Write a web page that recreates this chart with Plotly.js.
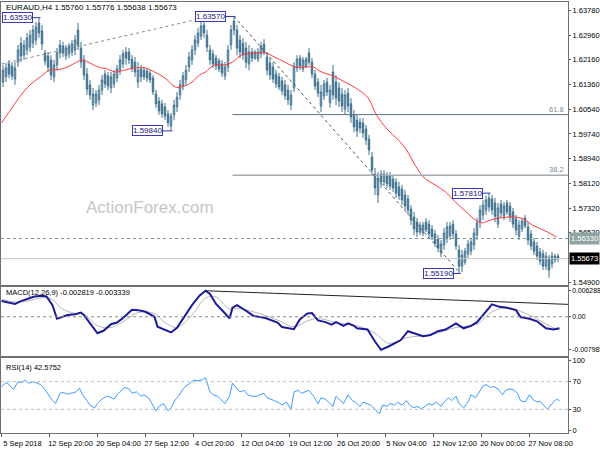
<!DOCTYPE html>
<html><head><meta charset="utf-8">
<script src="https://cdn.plot.ly/plotly-3.0.1.min.js"></script>
<style>html,body{margin:0;padding:0;background:#fff}#chart{width:600px;height:450px}</style>
</head><body><div id="chart"></div>
<script>
// ---- price bars (EURAUD, each bar drawn here spans two H4 bars) ----
const barOpen=[1.6143,1.6160,1.6202,1.6195,1.6153,1.6208,1.6270,1.6231,1.6248,1.6257,1.6270,1.6280,1.6336,1.6310,1.6238,1.6228,1.6215,1.6160,1.6199,1.6264,
1.6261,1.6228,1.6235,1.6241,1.6248,1.6313,1.6254,1.6215,1.6169,1.6134,1.6068,1.6075,1.6085,1.6117,1.6169,1.6163,1.6124,1.6137,1.6156,1.6182,
1.6202,1.6241,1.6241,1.6218,1.6208,1.6143,1.6186,1.6182,1.6179,1.6173,1.6156,1.6104,1.6081,1.6072,1.6062,1.6039,1.6000,1.6036,1.6062,1.6101,
1.6130,1.6150,1.6192,1.6215,1.6248,1.6270,1.6293,1.6329,1.6296,1.6248,1.6235,1.6221,1.6212,1.6202,1.6163,1.6192,1.6264,1.6342,1.6313,1.6280,
1.6270,1.6254,1.6202,1.6241,1.6221,1.6218,1.6235,1.6267,1.6225,1.6205,1.6192,1.6169,1.6160,1.6147,1.6134,1.6117,1.6068,1.6124,1.6189,1.6221,
1.6186,1.6195,1.6238,1.6208,1.6169,1.6143,1.6065,1.6098,1.6143,1.6075,1.6176,1.6143,1.6124,1.6104,1.6055,1.6107,1.6072,1.6036,1.6019,1.6013,
1.6010,1.5990,1.5957,1.5899,1.5843,1.5775,1.5843,1.5817,1.5837,1.5837,1.5827,1.5817,1.5801,1.5794,1.5775,1.5762,1.5729,1.5703,1.5687,1.5654,
1.5651,1.5687,1.5680,1.5664,1.5648,1.5631,1.5586,1.5612,1.5635,1.5641,1.5680,1.5648,1.5596,1.5543,1.5556,1.5583,1.5592,1.5612,1.5644,1.5687,
1.5710,1.5726,1.5765,1.5762,1.5749,1.5680,1.5746,1.5706,1.5749,1.5739,1.5720,1.5697,1.5641,1.5664,1.5700,1.5671,1.5648,1.5622,1.5609,1.5589,
1.5583,1.5543,1.5570,1.5550,1.5563,1.5576];
const barHigh=[1.6199,1.6205,1.6215,1.6208,1.6208,1.6264,1.6290,1.6280,1.6303,1.6313,1.6329,1.6339,1.6353,1.6329,1.6248,1.6241,1.6231,1.6215,1.6254,1.6280,
1.6274,1.6264,1.6270,1.6280,1.6296,1.6336,1.6274,1.6231,1.6189,1.6150,1.6124,1.6117,1.6134,1.6166,1.6182,1.6176,1.6176,1.6182,1.6199,1.6231,
1.6248,1.6257,1.6254,1.6231,1.6225,1.6208,1.6199,1.6192,1.6189,1.6182,1.6166,1.6117,1.6094,1.6085,1.6075,1.6052,1.6042,1.6085,1.6111,1.6150,
1.6176,1.6199,1.6241,1.6264,1.6296,1.6319,1.6339,1.6345,1.6313,1.6264,1.6248,1.6231,1.6221,1.6215,1.6208,1.6264,1.6329,1.6357,1.6329,1.6296,
1.6287,1.6274,1.6264,1.6254,1.6248,1.6254,1.6274,1.6283,1.6241,1.6221,1.6208,1.6182,1.6173,1.6160,1.6150,1.6134,1.6117,1.6208,1.6231,1.6231,
1.6225,1.6225,1.6254,1.6221,1.6182,1.6156,1.6134,1.6150,1.6156,1.6134,1.6199,1.6166,1.6143,1.6124,1.6117,1.6124,1.6091,1.6052,1.6036,1.6026,
1.6026,1.6003,1.5971,1.5915,1.5863,1.5850,1.5856,1.5856,1.5850,1.5850,1.5840,1.5830,1.5817,1.5808,1.5791,1.5775,1.5742,1.5720,1.5700,1.5687,
1.5687,1.5700,1.5693,1.5677,1.5661,1.5644,1.5628,1.5667,1.5687,1.5687,1.5693,1.5661,1.5612,1.5596,1.5602,1.5628,1.5635,1.5667,1.5700,1.5742,
1.5759,1.5772,1.5781,1.5775,1.5765,1.5749,1.5759,1.5752,1.5759,1.5752,1.5733,1.5710,1.5693,1.5700,1.5710,1.5687,1.5661,1.5635,1.5622,1.5602,
1.5596,1.5589,1.5579,1.5589,1.5583,1.5584];
const barLow=[1.6127,1.6143,1.6156,1.6150,1.6134,1.6192,1.6208,1.6215,1.6231,1.6241,1.6254,1.6264,1.6287,1.6248,1.6199,1.6176,1.6150,1.6143,1.6182,1.6221,
1.6225,1.6215,1.6221,1.6228,1.6231,1.6248,1.6189,1.6150,1.6101,1.6085,1.6052,1.6062,1.6068,1.6101,1.6124,1.6117,1.6107,1.6124,1.6143,1.6166,
1.6189,1.6199,1.6202,1.6176,1.6160,1.6124,1.6143,1.6150,1.6143,1.6140,1.6101,1.6059,1.6036,1.6026,1.6019,1.5997,1.5984,1.6019,1.6045,1.6085,
1.6117,1.6134,1.6176,1.6199,1.6231,1.6257,1.6280,1.6287,1.6241,1.6199,1.6189,1.6182,1.6176,1.6160,1.6150,1.6176,1.6248,1.6296,1.6231,1.6221,
1.6215,1.6189,1.6182,1.6208,1.6215,1.6208,1.6221,1.6231,1.6166,1.6150,1.6140,1.6124,1.6117,1.6101,1.6085,1.6068,1.6052,1.6111,1.6176,1.6182,
1.6176,1.6189,1.6199,1.6156,1.6117,1.6094,1.6045,1.6085,1.6098,1.6059,1.6085,1.6068,1.6062,1.6045,1.6036,1.6045,1.6010,1.5980,1.5964,1.5977,
1.5961,1.5938,1.5905,1.5840,1.5775,1.5749,1.5798,1.5804,1.5798,1.5791,1.5785,1.5765,1.5759,1.5742,1.5726,1.5710,1.5677,1.5644,1.5638,1.5644,
1.5641,1.5654,1.5635,1.5628,1.5605,1.5589,1.5573,1.5596,1.5618,1.5628,1.5635,1.5596,1.5519,1.5524,1.5547,1.5570,1.5579,1.5596,1.5628,1.5667,
1.5693,1.5710,1.5720,1.5710,1.5687,1.5667,1.5700,1.5693,1.5710,1.5687,1.5667,1.5644,1.5628,1.5654,1.5667,1.5612,1.5596,1.5579,1.5563,1.5547,
1.5530,1.5530,1.5505,1.5537,1.5553,1.5556];
const barClose=[1.6182,1.6189,1.6169,1.6163,1.6189,1.6248,1.6228,1.6264,1.6287,1.6296,1.6313,1.6323,1.6303,1.6267,1.6212,1.6192,1.6166,1.6199,1.6238,1.6238,
1.6238,1.6254,1.6261,1.6267,1.6280,1.6264,1.6208,1.6166,1.6120,1.6101,1.6104,1.6104,1.6117,1.6150,1.6137,1.6130,1.6160,1.6169,1.6186,1.6215,
1.6235,1.6221,1.6215,1.6189,1.6176,1.6182,1.6160,1.6160,1.6156,1.6150,1.6111,1.6072,1.6049,1.6039,1.6032,1.6010,1.6032,1.6068,1.6094,1.6134,
1.6163,1.6182,1.6225,1.6248,1.6280,1.6303,1.6326,1.6303,1.6257,1.6215,1.6202,1.6195,1.6186,1.6173,1.6192,1.6248,1.6313,1.6313,1.6254,1.6241,
1.6231,1.6208,1.6241,1.6221,1.6241,1.6241,1.6261,1.6241,1.6182,1.6166,1.6153,1.6137,1.6127,1.6114,1.6098,1.6085,1.6101,1.6195,1.6218,1.6195,
1.6215,1.6218,1.6208,1.6169,1.6130,1.6107,1.6111,1.6137,1.6111,1.6117,1.6101,1.6091,1.6081,1.6065,1.6101,1.6065,1.6029,1.5997,1.5984,1.5993,
1.5977,1.5954,1.5922,1.5856,1.5798,1.5830,1.5817,1.5843,1.5811,1.5804,1.5798,1.5781,1.5772,1.5759,1.5739,1.5726,1.5693,1.5664,1.5654,1.5677,
1.5677,1.5661,1.5648,1.5638,1.5618,1.5602,1.5615,1.5651,1.5671,1.5674,1.5648,1.5609,1.5543,1.5579,1.5592,1.5615,1.5622,1.5651,1.5684,1.5726,
1.5742,1.5759,1.5736,1.5726,1.5706,1.5733,1.5716,1.5739,1.5720,1.5703,1.5680,1.5661,1.5677,1.5690,1.5674,1.5628,1.5609,1.5592,1.5576,1.5560,
1.5543,1.5576,1.5530,1.5576,1.5576,1.55673];
// ---- moving average (red) ----
const maIndex=[0,6,12,19,26,32,37,44,50,54,59,66,69,76,82,89,96,102,109,116,120,127,132,136,142,149,154,160,169,176,182,189,196,202,208,212,221,229,236,244,250,257,264,270,276,282,289,296,302,309,316,320,326,332,341,348,354,364,370];
const maValue=[1.6010,1.6052,1.6094,1.6134,1.6160,1.6182,1.6183,1.6192,1.6208,1.6215,1.6205,1.6189,1.6188,1.6176,1.6182,1.6189,1.6189,1.6176,1.6156,1.6127,1.6127,1.6143,1.6166,1.6176,1.6199,1.6199,1.6208,1.6231,1.6238,1.6238,1.6225,1.6208,1.6192,1.6192,1.6192,1.6179,1.6163,1.6143,1.6124,1.6094,1.6036,1.5990,1.5957,1.5922,1.5870,1.5830,1.5808,1.5785,1.5755,1.5723,1.5693,1.5684,1.5693,1.5700,1.5703,1.5697,1.5677,1.5654,1.5638];
// ---- MACD(12,26,9) ----
const macdIndex=[0,4,9,13,17,22,27,30,34,37,40,44,49,53,55,59,64,68,73,77,81,87,91,96,102,104,109,113,117,122,127,132,136,139,143,148,152,154,157,162,168,176,184,187,193,195,199,204,207,211,216,220,223,228,231,235,237,244,249,253,258,266,271,276,281,286,291,296,303,308,313,317,322,327,332,337,343,346,352,357,363,368,372];
const macdMain=[0.0038,0.0035,0.0031,0.0038,0.0043,0.0049,0.0051,0.0049,0.0028,-0.0005,-0.0001,0.0004,0.0006,0.0010,0.0004,-0.0015,-0.0040,-0.0034,-0.0018,-0.0014,-0.0003,0.0017,0.0016,0.0012,0.0000,-0.0024,-0.0031,-0.0038,-0.0027,0.0000,0.0028,0.0051,0.0063,0.0055,0.0031,0.0012,-0.0004,0.0022,0.0028,0.0017,0.0002,-0.0003,-0.0014,-0.0025,-0.0028,-0.0030,-0.0006,0.0008,0.0009,-0.0009,-0.0013,-0.0019,-0.0013,-0.0022,-0.0016,-0.0022,-0.0028,-0.0031,-0.0060,-0.0080,-0.0072,-0.0057,-0.0035,-0.0041,-0.0047,-0.0044,-0.0035,-0.0031,-0.0016,-0.0028,-0.0022,-0.0013,0.0008,0.0030,0.0024,0.0022,0.0016,-0.0001,-0.0005,-0.0011,-0.0028,-0.0031,-0.0028];
const signalIndex=[0,9,17,27,34,40,49,55,64,73,81,91,102,109,117,127,136,143,152,157,168,184,195,204,211,223,237,249,258,271,286,303,317,327,337,352,363,372];
const signalValue=[0.0042,0.0036,0.0038,0.0046,0.0042,0.0020,0.0008,0.0006,-0.0022,-0.0026,-0.0012,0.0010,0.0008,-0.0014,-0.0026,0.0004,0.0045,0.0048,0.0018,0.0020,0.0012,-0.0008,-0.0024,-0.0010,-0.0004,-0.0014,-0.0022,-0.0040,-0.0064,-0.0050,-0.0044,-0.0026,-0.0018,0.0012,0.0022,0.0004,-0.0018,-0.0033];
// ---- RSI(14) ----
const rsiIndex=[0,3,5,8,11,13,16,18,21,23,26,28,31,34,36,39,41,44,46,49,52,54,57,59,62,64,67,70,72,75,77,80,82,85,87,90,93,95,98,100,103,105,108,111,113,116,118,121,123,126,128,131,134,136,139,141,144,146,149,152,154,157,159,162,164,167,170,172,175,177,180,182,185,187,190,193,195,198,200,203,205,208,211,213,216,218,221,223,226,228,231,234,236,239,241,244,246,249,252,254,257,259,262,264,267,270,272,275,277,280,282,285,287,290,293,295,298,300,303,305,308,311,313,316,318,321,323,326,328,331,334,336,339,341,344,346,349,352,354,357,359,362,364,367,370,372];
const rsiValue=[62.8,68.7,65.8,58.6,70.0,68.7,72.1,67.9,70.0,68.7,65.8,61.6,51.1,42.6,38.4,53.2,54.4,51.9,53.2,54.4,60.3,51.1,42.6,36.3,32.1,38.4,44.7,48.9,48.1,44.7,51.1,57.4,61.6,59.5,53.2,55.3,48.9,51.1,46.8,39.3,27.9,34.2,38.4,27.9,32.1,44.7,48.9,59.5,63.7,67.9,72.1,71.3,72.9,75.5,55.3,51.1,48.9,44.7,38.4,48.9,67.9,59.5,55.3,57.4,51.1,48.9,48.9,51.1,53.2,46.8,44.7,42.6,39.3,36.3,40.5,30.0,55.3,57.4,53.2,55.3,57.4,48.9,38.4,46.8,44.7,40.5,34.2,48.9,42.6,38.4,51.1,42.6,40.5,34.2,40.5,38.4,36.3,30.0,23.7,36.3,34.2,38.4,36.3,40.5,36.3,42.6,36.3,32.1,34.2,30.8,34.2,38.4,36.3,40.5,34.2,40.5,46.8,42.6,48.9,38.4,32.1,40.5,51.1,46.8,53.2,63.7,65.8,61.6,62.8,59.5,51.1,57.4,59.5,58.6,53.2,42.6,40.5,51.1,44.7,40.5,41.8,34.2,30.0,38.4,44.7,42.6];
// ---- axis labels ----
const dateTickIndex=[0,32,64,96,128,160,192,224,256,288,320,352];
const dateTickText=['5 Sep 2018','12 Sep 20:00','20 Sep 04:00','27 Sep 12:00','4 Oct 20:00','12 Oct 04:00','19 Oct 12:00','26 Oct 20:00','5 Nov 04:00','12 Nov 12:00','20 Nov 00:00','27 Nov 08:00'];
const priceTicks=[1.6378,1.6296,1.6216,1.6136,1.6054,1.5974,1.5894,1.5812,1.5732,1.5652,1.5490];
const macdTicks=[0.006288,0,-0.007985];
const macdTickText=['0.006288','0.00','-0.007985'];
const rsiTicks=[100,70,30,0];
const rsiTickText=['100','70','30','0'];
// swing labels and levels
const swingIndex=[25,155,113,325,305];
const swingPrice=[1.6353,1.6357,1.5984,1.5781,1.5519];
const swingText=['1.63530','1.63570','1.59840','1.57810','1.55190'];
const fibLevels=[1.6037,1.5839];
const fibText=['61.8','38.2'];
const resistLevel=1.5633;
const lastPrice=1.55673;

const barIndex=barOpen.map((_,k)=>2*k+1);
const XR=[-0.33,377.67];
const FONT='Liberation Sans, Arial, sans-serif';

const traces=[
 {type:'candlestick',x:barIndex,open:barOpen,high:barHigh,low:barLow,close:barClose,xaxis:'x',yaxis:'y',
  increasing:{line:{color:'#41728f',width:1},fillcolor:'#b8cfdf'},
  decreasing:{line:{color:'#41728f',width:1},fillcolor:'#41728f'},whiskerwidth:0,hoverinfo:'skip'},
 {type:'scatter',mode:'lines',x:maIndex,y:maValue,xaxis:'x',yaxis:'y',line:{color:'#ff3b3b',width:1,shape:'spline'},hoverinfo:'skip'},
 {type:'scatter',mode:'lines',x:signalIndex,y:signalValue,xaxis:'x2',yaxis:'y2',line:{color:'#b8b8b8',width:1,shape:'spline'},hoverinfo:'skip'},
 {type:'scatter',mode:'lines',x:macdIndex,y:macdMain,xaxis:'x2',yaxis:'y2',line:{color:'#1b1b99',width:2},hoverinfo:'skip'},
 {type:'scatter',mode:'lines',x:rsiIndex,y:rsiValue,xaxis:'x3',yaxis:'y3',line:{color:'#3c9cff',width:1},hoverinfo:'skip'}
];

function tf(){return {family:FONT,size:7.5,color:'#000'};}
const axBase={showgrid:false,zeroline:false,showline:true,mirror:true,linecolor:'#707070',linewidth:1};
const shapes=[];
const annotations=[];
fibLevels.forEach((lv,i)=>{
 shapes.push({type:'line',xref:'x',yref:'y',x0:154,x1:XR[1],y0:lv,y1:lv,line:{color:i===0?'#5b7684':'#a3acb2',width:i===0?1:1.5}});
 annotations.push({xref:'paper',yref:'y',x:1,y:lv,xanchor:'right',yanchor:'bottom',xshift:-2,yshift:-1,showarrow:false,text:fibText[i],font:{family:FONT,size:7.5,color:'#7d8c96'}});
});
shapes.push({type:'line',xref:'x',yref:'y',x0:XR[0],x1:XR[1],y0:resistLevel,y1:resistLevel,line:{color:'#7f9797',width:1,dash:'3px,3px'}});
shapes.push({type:'line',xref:'x',yref:'y',x0:XR[0],x1:XR[1],y0:lastPrice,y1:lastPrice,line:{color:'#c4c4c4',width:1}});
shapes.push({type:'line',xref:'x',yref:'y',x0:0,x1:132,y0:1.6202,y1:1.6349,line:{color:'#8a8a8a',width:1,dash:'dot'}});
shapes.push({type:'line',xref:'x',yref:'y',x0:155,x1:306,y0:1.6357,y1:1.5519,line:{color:'#555',width:1,dash:'dot'}});
shapes.push({type:'line',xref:'x2',yref:'y2',x0:136,x1:XR[1],y0:0.0063,y1:0.0030,line:{color:'#222',width:1}});
shapes.push({type:'line',xref:'x2',yref:'y2',x0:XR[0],x1:XR[1],y0:0,y1:0,line:{color:'#8a8a8a',width:1,dash:'dot'}});
[70,30].forEach(v=>shapes.push({type:'line',xref:'x3',yref:'y3',x0:XR[0],x1:XR[1],y0:v,y1:v,line:{color:'#c0c0c0',width:1,dash:'dot'}}));
const gaps=[6,8,8,6,5];
swingIndex.forEach((xi,i)=>{
 shapes.push({type:'line',xref:'x',yref:'y',x0:xi-gaps[i]/1.5,x1:xi+1,y0:swingPrice[i],y1:swingPrice[i],line:{color:'#3434a8',width:1}});
 annotations.push({xref:'x',yref:'y',x:xi-gaps[i]/1.5,y:swingPrice[i],xanchor:'right',yanchor:'middle',showarrow:false,text:swingText[i],
  font:{family:FONT,size:8,color:'#16167a'},bgcolor:'#ffffff',bordercolor:'#3a3ab0',borderwidth:1,borderpad:0});
});
annotations.push({xref:'paper',yref:'y',x:1,y:resistLevel,xanchor:'left',yanchor:'middle',xshift:1,showarrow:false,text:'1.56330',
 font:{family:FONT,size:7.5,color:'#ffffff'},bgcolor:'#8fa3a3',borderpad:1});
annotations.push({xref:'paper',yref:'y',x:1,y:lastPrice,xanchor:'left',yanchor:'middle',xshift:1,showarrow:false,text:'1.55673',
 font:{family:FONT,size:7.5,color:'#ffffff'},bgcolor:'#000000',borderpad:1});
annotations.push({xref:'paper',yref:'paper',x:0.005,y:0.988,xanchor:'left',yanchor:'middle',showarrow:false,text:'EURAUD,H4 1.55760 1.55776 1.55638 1.55673',font:{family:FONT,size:8,color:'#000'}});
annotations.push({xref:'paper',yref:'paper',x:0.263,y:0.524,xanchor:'center',yanchor:'middle',showarrow:false,text:'ActionForex.com',font:{family:FONT,size:17,color:'#c6c6c6'}});
annotations.push({xref:'paper',yref:'paper',x:0.005,y:0.327,xanchor:'left',yanchor:'middle',showarrow:false,text:'MACD(12,26,9) -0.002819 -0.003339',font:{family:FONT,size:7.5,color:'#000'}});
annotations.push({xref:'paper',yref:'paper',x:0.005,y:0.153,xanchor:'left',yanchor:'middle',showarrow:false,text:'RSI(14) 42.5752',font:{family:FONT,size:7.5,color:'#000'}});

const yAx={side:'right',ticks:'outside',ticklen:2,tickcolor:'#555'};
const layout={width:600,height:450,margin:{l:1,r:32,t:2,b:17},paper_bgcolor:'#fff',plot_bgcolor:'#fff',showlegend:false,
 font:{family:FONT,size:8,color:'#000'},
 xaxis:Object.assign({},axBase,{domain:[0,1],anchor:'y',range:XR,rangeslider:{visible:false},showticklabels:false,ticks:''}),
 yaxis:Object.assign({},axBase,yAx,{tickfont:tf(),domain:[0.3434,1],anchor:'x',range:[1.54815,1.64041],tickvals:priceTicks,ticktext:priceTicks.map(v=>v.toFixed(5))}),
 xaxis2:Object.assign({},axBase,{domain:[0,1],anchor:'y2',range:XR,showticklabels:false,ticks:''}),
 yaxis2:Object.assign({},axBase,yAx,{domain:[0.1787,0.3387],anchor:'x2',range:[-0.0095,0.0072],tickvals:macdTicks,ticktext:macdTickText,tickfont:{family:FONT,size:6.8,color:'#000'}}),
 xaxis3:Object.assign({},axBase,{tickfont:tf(),domain:[0,1],anchor:'y3',range:XR,tickvals:dateTickIndex,ticktext:dateTickText,ticks:'outside',ticklen:3,tickcolor:'#555',ticklabelshift:21}),
 yaxis3:Object.assign({},axBase,yAx,{tickfont:tf(),domain:[0,0.174],anchor:'x3',range:[-4,104],tickvals:rsiTicks,ticktext:rsiTickText}),
 shapes:shapes,annotations:annotations};
Plotly.newPlot('chart',traces,layout,{staticPlot:true,displayModeBar:false});
</script></body></html>
